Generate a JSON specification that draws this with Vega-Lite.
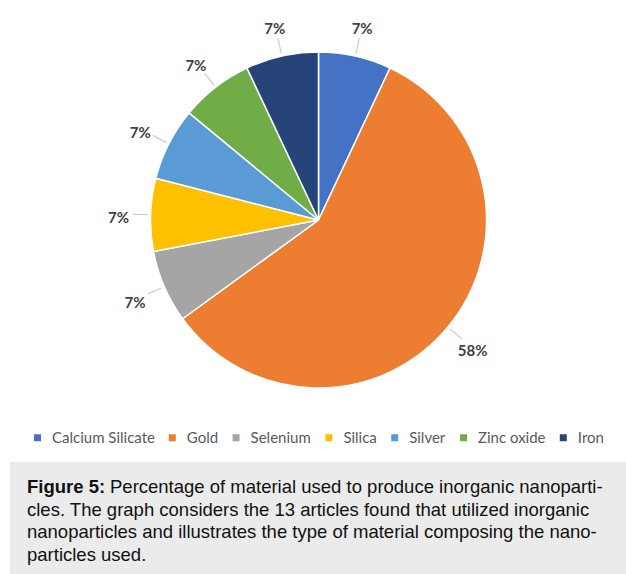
{
  "$schema": "https://vega.github.io/schema/vega-lite/v6.json",
  "background": "white",
  "padding": {"left": 10, "top": 7, "right": 0, "bottom": 0},
  "spacing": 0,
  "bounds": "flush",
  "config": {
    "view": {"stroke": "#d0d0d0", "strokeWidth": 1.2},
    "concat": {"spacing": 0}
  },
  "vconcat": [
    {
      "width": 617,
      "height": 455,
      "data": {
        "values": [
          {"idx": 1, "material": "Calcium Silicate", "share": 0.07},
          {"idx": 2, "material": "Gold", "share": 0.58},
          {"idx": 3, "material": "Selenium", "share": 0.07},
          {"idx": 4, "material": "Silica", "share": 0.07},
          {"idx": 5, "material": "Silver", "share": 0.07},
          {"idx": 6, "material": "Zinc oxide", "share": 0.07},
          {"idx": 7, "material": "Iron", "share": 0.07}
        ]
      },
      "encoding": {
        "theta": {"field": "share", "type": "quantitative", "stack": true},
        "order": {"field": "idx", "type": "quantitative"}
      },
      "layer": [
        {
          "mark": {
            "type": "arc",
            "outerRadius": 168,
            "stroke": "white",
            "strokeWidth": 1.5,
            "y": 213
          },
          "encoding": {
            "color": {
              "field": "material",
              "type": "nominal",
              "scale": {
                "domain": ["Calcium Silicate", "Gold", "Selenium", "Silica", "Silver", "Zinc oxide", "Iron"],
                "range": ["#4472C4", "#ED7D31", "#A5A5A5", "#FFC000", "#5B9BD5", "#70AD47", "#264478"]
              },
              "legend": {
                "title": null,
                "orient": "none",
                "direction": "horizontal",
                "columns": 7,
                "padding": 0,
                "offset": 0,
                "legendX": 20,
                "legendY": 423,
                "symbolType": "square",
                "symbolSize": 49,
                "symbolStrokeWidth": 0,
                "labelFont": "Lato",
                "labelFontSize": 15,
                "labelColor": "#595959",
                "labelOffset": 7,
                "columnPadding": 9.8
              }
            }
          }
        },
        {
          "mark": {
            "type": "text",
            "text": "│",
            "radius": 178,
            "font": "DejaVu Sans",
            "fontSize": 13,
            "fill": "#c8c8c8",
            "align": "center",
            "baseline": "middle",
            "y": 213,
            "angle": {"expr": "(datum.share_start + datum.share_end) * 180"}
          }
        },
        {
          "mark": {
            "type": "text",
            "radius": 200,
            "font": "Lato",
            "fontSize": 15,
            "fontWeight": "bold",
            "fill": "#404040",
            "align": "center",
            "baseline": "middle",
            "y": 217
          },
          "encoding": {
            "text": {"field": "share", "type": "quantitative", "format": ".0%"}
          }
        }
      ]
    },
    {
      "width": 617,
      "height": 112,
      "view": {"fill": "#ebebeb", "stroke": null},
      "data": {
        "values": [
          {"line": 1, "text": "Percentage of material used to produce inorganic nanoparti-"},
          {"line": 2, "text": "cles. The graph considers the 13 articles found that utilized inorganic"},
          {"line": 3, "text": "nanoparticles and illustrates the type of material composing the nano-"},
          {"line": 4, "text": "particles used."}
        ]
      },
      "encoding": {
        "y": {
          "field": "line",
          "type": "ordinal",
          "scale": {"type": "point", "domain": [1, 2, 3, 4], "padding": 0.935},
          "axis": null
        }
      },
      "layer": [
        {
          "transform": [{"filter": "datum.line == 1"}],
          "mark": {"type": "text", "align": "left", "baseline": "alphabetic", "x": 17, "dy": 9, "font": "Liberation Sans", "fontSize": 18.5, "fontWeight": "bold", "fill": "#111111"},
          "encoding": {"text": {"value": "Figure 5:"}}
        },
        {
          "transform": [{"filter": "datum.line == 1"}],
          "mark": {"type": "text", "align": "left", "baseline": "alphabetic", "x": 17, "dx": 83, "dy": 9, "font": "Liberation Sans", "fontSize": 18.5, "fill": "#111111"},
          "encoding": {"text": {"field": "text"}}
        },
        {
          "transform": [{"filter": "datum.line > 1"}],
          "mark": {"type": "text", "align": "left", "baseline": "alphabetic", "x": 17, "dy": 9, "font": "Liberation Sans", "fontSize": 18.5, "fill": "#111111"},
          "encoding": {"text": {"field": "text"}}
        }
      ]
    }
  ]
}
